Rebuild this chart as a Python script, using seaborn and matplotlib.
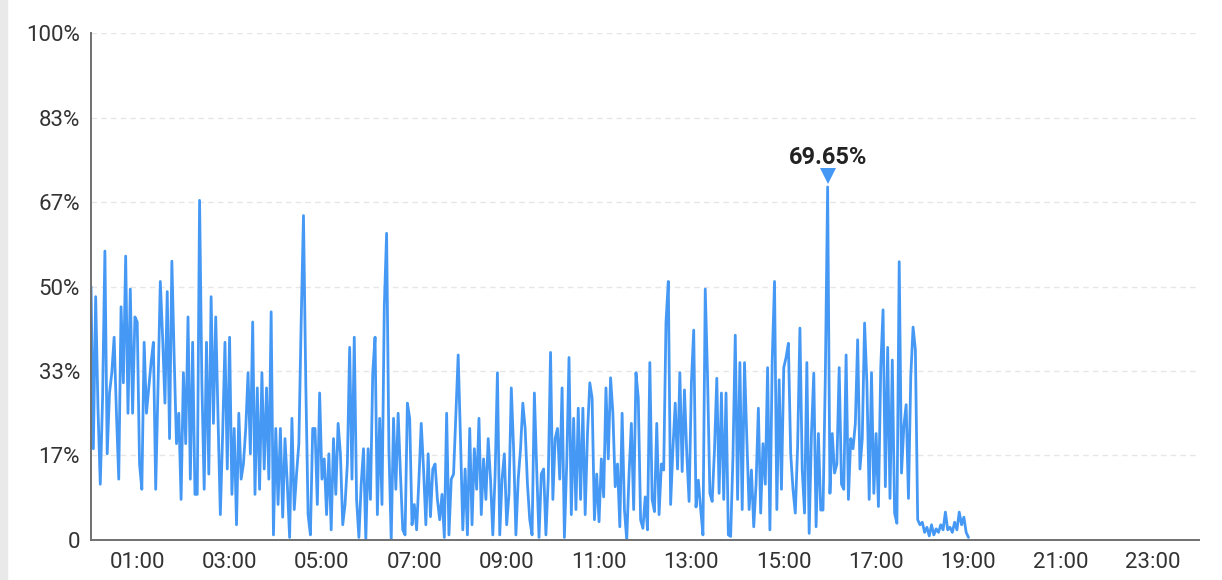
import numpy as np
import pandas as pd
import matplotlib.pyplot as plt
import seaborn as sns

# readings every 3 minutes, one list per hour (percent)
h00 = [50, 18, 48, 26, 11, 28, 57, 17, 29, 33, 40, 25, 12, 46, 31, 56, 25, 49.5, 25, 44]
h01 = [43, 15, 10, 39, 25, 30, 35, 39, 10, 30, 51, 40, 27, 49, 20, 55, 36, 19, 25, 8]
h02 = [33, 19, 44, 12, 39, 9, 9, 67, 31, 10, 39, 13, 48, 23, 44, 24, 5, 21, 39, 14]
h03 = [40, 9, 22, 3, 25, 12, 15, 22, 33, 17, 43, 9, 30, 10, 33, 14, 30, 12, 45, 1]
h04 = [22, 7, 22, 4.5, 20, 11, 0.5, 24, 6, 13, 19, 43, 64, 31, 5, 1, 22, 22, 7, 29]
h05 = [12, 16, 5, 17, 2, 20, 9, 23, 17, 3, 7, 15, 38, 12, 40, 8, 0.5, 11, 18, 0]
h06 = [18, 8, 33, 40, 5, 24, 7, 46, 60.5, 18, 0, 24, 10, 25, 13, 2, 1, 27, 24, 3]
h07 = [7, 2, 12, 23, 14, 3, 17, 4.6, 14, 15, 8, 4, 9, 0.5, 25, 1, 12, 13, 25, 36.5]
h08 = [20, 2, 14, 1, 22, 3, 18, 10, 24, 5, 16, 8, 20, 12, 1, 13, 33, 1, 12, 17]
h09 = [3, 9, 30, 18, 1, 12, 18, 27, 22, 11, 4, 1, 29, 14, 0.5, 13, 14, 1, 12, 37]
h10 = [8, 20, 22, 12, 30, 0.5, 15, 36, 5, 24, 6, 26, 8, 26, 5, 21, 31, 28, 4, 13]
h11 = [3.6, 16, 8.5, 30, 16, 32, 25, 10.5, 15, 2.6, 25, 6, 0, 13, 23, 6, 33, 28, 4, 2.3]
h12 = [8.5, 2, 35, 8, 5.6, 23, 5, 15, 13.8, 43, 51, 7, 18, 27, 14, 33, 13.5, 29.6, 17, 7.6]
h13 = [31, 41.4, 6.5, 11.8, 6.2, 1, 49.5, 32, 9.2, 7.6, 17.8, 31.9, 9.2, 29, 8, 29, 1, 0.7, 16.5, 40.4]
h14 = [8, 35, 6, 35, 20, 6, 13.8, 2.6, 11, 26, 5.3, 19, 11, 34, 2, 35.5, 51, 6, 31.6, 10]
h15 = [34, 36, 38.8, 17, 10, 5.3, 18.4, 41.8, 13.8, 5.3, 35, 1.3, 21, 32.9, 2.6, 21, 5.9, 5.9, 32.2, 69.65]
h16 = [9.2, 21, 13.2, 15, 34, 11, 10, 36.5, 8, 20, 18, 23, 39.5, 14, 20, 42.8, 31, 8, 33, 9.2]
h17 = [21, 6.6, 34, 45.4, 10.5, 38, 8.2, 35.5, 5.3, 3.3, 54.9, 13.2, 22.4, 26.7, 8.2, 32.2, 42, 37.5, 4, 3]
h18 = [3.5, 1.5, 2.5, 0.8, 3, 1, 2.2, 1.5, 3, 2, 5.5, 2, 2.5, 1.5, 3.5, 2, 5.5, 3, 4.5, 1.5]
h19 = [0.5]

y_ticks = [0, 100 / 6, 200 / 6, 50, 400 / 6, 500 / 6, 100]
y_labels = ["0", "17%", "33%", "50%", "67%", "83%", "100%"]
x_ticks = list(range(1, 24, 2))
x_labels = ["%02d:00" % h for h in x_ticks]

hours = [h00, h01, h02, h03, h04, h05, h06, h07, h08, h09,
         h10, h11, h12, h13, h14, h15, h16, h17, h18, h19]

vals = []
times = []
for hr, block in enumerate(hours):
    for i, v in enumerate(block):
        vals.append(v)
        times.append(hr + i * 3 / 60)
df = pd.DataFrame({"time": times, "usage": vals})

sns.set_style("white")
plt.rcParams['font.family'] = ['Roboto', 'DejaVu Sans']

fig = plt.figure(figsize=(12.22, 5.80), dpi=100)
ax = fig.add_axes([0.0745, 0.069, 0.907, 0.874])

sns.lineplot(data=df, x="time", y="usage", ax=ax, color="#4599f5",
             linewidth=2.0, estimator=None)

# max marker + label
imax = df["usage"].idxmax()
tmax = df.loc[imax, "time"]
vmax = df.loc[imax, "usage"]
ax.plot([tmax], [vmax + 2.2], marker="v", color="#4599f5", markersize=12,
        markeredgewidth=0, linestyle="none", clip_on=False)
ax.text(tmax, vmax + 4.6, "%.2f%%" % vmax, ha="center", va="baseline",
        fontsize=17, fontweight="bold", color="#222222")

ax.set_xlim(0, 24)
ax.set_ylim(0, 100)
ax.set_xticks(x_ticks)
ax.set_xticklabels(x_labels)
ax.set_yticks(y_ticks)
ax.set_yticklabels(y_labels)
ax.set_xlabel("")
ax.set_ylabel("")

ax.grid(axis="y", color="#e6e6e6", linestyle=(0, (4, 3)), linewidth=1)
ax.grid(axis="x", visible=False)
for s in ["top", "right"]:
    ax.spines[s].set_visible(False)
for s in ["left", "bottom"]:
    ax.spines[s].set_color("#707070")
    ax.spines[s].set_linewidth(1.4)

ax.tick_params(axis="x", length=5, width=1.4, color="#707070",
               labelsize=16, labelcolor="#333333", pad=4)
ax.tick_params(axis="y", length=0, labelsize=16, labelcolor="#333333", pad=8)

# light border strip at the far left of the screenshot
fig.patches.append(plt.Rectangle((0, 0), 0.006, 1, transform=fig.transFigure,
                                 color="#e9e9e9", zorder=0))

fig.savefig("out.png", dpi=100)
